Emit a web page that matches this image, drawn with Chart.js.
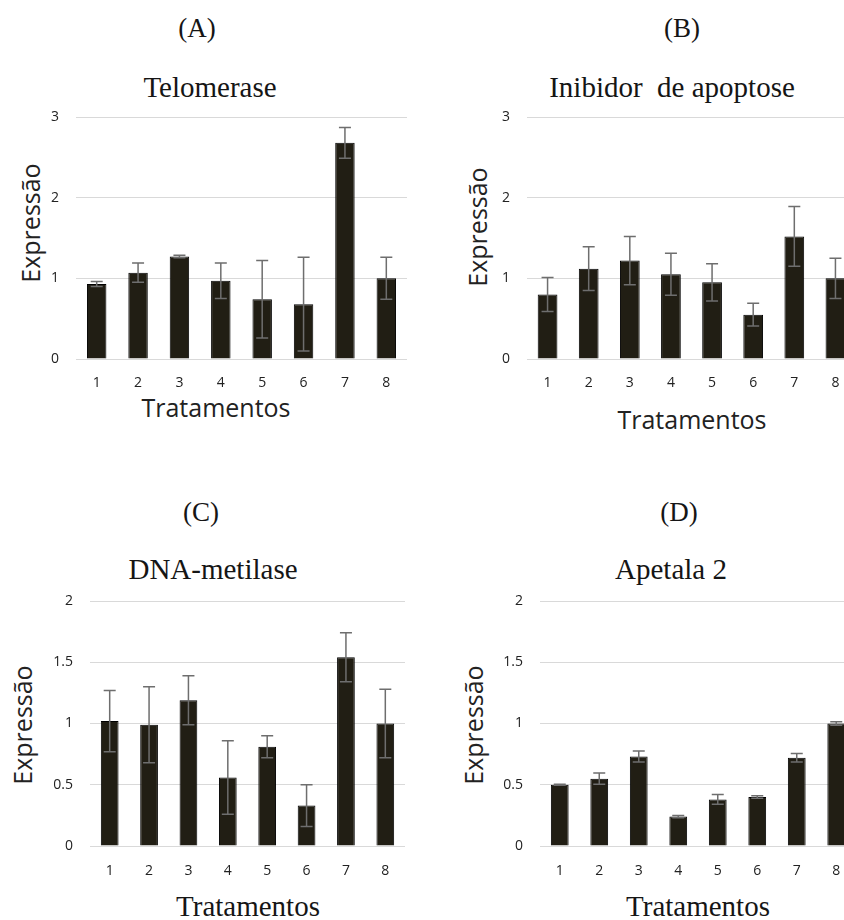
<!DOCTYPE html>
<html>
<head>
<meta charset="utf-8">
<title>Expressão por tratamento</title>
<script src="https://cdn.jsdelivr.net/npm/chart.js@4.4.1/dist/chart.umd.min.js"></script>
<style>
  html, body { margin: 0; padding: 0; background: #fff; }
  body { position: relative; width: 844px; height: 920px; overflow: hidden; }
  .panel { position: absolute; }
  .txt { position: absolute; white-space: pre; line-height: 1; color: #151515; transform: translate(-50%, -50%); }
  .serif { font-family: "Liberation Serif", "Times New Roman", serif; }
  .sans { font-family: "Open Sans", "DejaVu Sans", sans-serif; font-size: 25px; color: #222; }
  .rot { transform: translate(-50%, -50%) rotate(-90deg); }
</style>
</head>
<body>

<!-- panel labels and titles -->
<div class="txt serif" style="left:197px;top:28px;font-size:27px">(A)</div>
<div class="txt serif" style="left:682px;top:28px;font-size:27px">(B)</div>
<div class="txt serif" style="left:201px;top:512px;font-size:27px">(C)</div>
<div class="txt serif" style="left:679px;top:512px;font-size:27px">(D)</div>

<div class="txt serif" style="left:210px;top:87px;font-size:29px">Telomerase</div>
<div class="txt serif" style="left:672px;top:87px;font-size:29px">Inibidor  de apoptose</div>
<div class="txt serif" style="left:213px;top:569px;font-size:29px">DNA-metilase</div>
<div class="txt serif" style="left:671px;top:569px;font-size:29px">Apetala 2</div>

<!-- axis titles -->
<div class="txt sans rot" style="left:30px;top:223px">Expressão</div>
<div class="txt sans rot" style="left:477px;top:227px">Expressão</div>
<div class="txt sans rot" style="left:22px;top:725px">Expressão</div>
<div class="txt sans rot" style="left:473px;top:725px">Expressão</div>

<div class="txt sans" style="left:216px;top:407px">Tratamentos</div>
<div class="txt sans" style="left:692px;top:419px">Tratamentos</div>
<div class="txt serif" style="left:248px;top:906px;font-size:29px">Tratamentos</div>
<div class="txt serif" style="left:698px;top:906px;font-size:29px">Tratamentos</div>

<div class="panel" style="left:0px;top:0px"><canvas id="chartA" width="420" height="460"></canvas></div>
<div class="panel" style="left:420px;top:0px"><canvas id="chartB" width="440" height="460"></canvas></div>
<div class="panel" style="left:0px;top:460px"><canvas id="chartC" width="420" height="470"></canvas></div>
<div class="panel" style="left:420px;top:460px"><canvas id="chartD" width="440" height="470"></canvas></div>

<script>
// ---- data ----
const categories = ["1", "2", "3", "4", "5", "6", "7", "8"];

const telomeraseValues = [0.93, 1.07, 1.27, 0.97, 0.74, 0.68, 2.68, 1.00];
const telomeraseErrors = [0.03, 0.12, 0.015, 0.22, 0.48, 0.58, 0.19, 0.26];

const inibidorValues = [0.80, 1.12, 1.22, 1.05, 0.95, 0.55, 1.52, 1.00];
const inibidorErrors = [0.21, 0.27, 0.30, 0.26, 0.23, 0.14, 0.37, 0.25];

const metilaseValues = [1.02, 0.99, 1.19, 0.56, 0.81, 0.33, 1.54, 1.00];
const metilaseErrors = [0.25, 0.31, 0.20, 0.30, 0.09, 0.17, 0.20, 0.28];

const apetalaValues = [0.50, 0.55, 0.73, 0.24, 0.38, 0.40, 0.72, 1.00];
const apetalaErrors = [0.005, 0.045, 0.045, 0.01, 0.04, 0.01, 0.035, 0.015];

const ticksUpTo3 = ["0", "1", "2", "3"];
const ticksUpTo2 = ["0", "0.5", "1", "1.5", "2"];

// error bars drawn from the dataset's own errors, through the y scale
const errorBars = {
  id: "errorBars",
  afterDatasetsDraw(chart) {
    const { ctx } = chart;
    const y = chart.scales.y;
    const ds = chart.data.datasets[0];
    const meta = chart.getDatasetMeta(0);
    ctx.save();
    ctx.strokeStyle = "#6e6e6e";
    ctx.lineWidth = 1.5;
    meta.data.forEach((bar, i) => {
      const v = ds.data[i], e = ds.errors[i];
      const top = y.getPixelForValue(v + e);
      const bot = y.getPixelForValue(v - e);
      const cap = 6;
      ctx.beginPath();
      ctx.moveTo(bar.x, top); ctx.lineTo(bar.x, bot);
      ctx.moveTo(bar.x - cap, top); ctx.lineTo(bar.x + cap, top);
      ctx.moveTo(bar.x - cap, bot); ctx.lineTo(bar.x + cap, bot);
      ctx.stroke();
    });
    ctx.restore();
  }
};

function buildChart(id, values, errors, tickLabels, yMax, yStep, box) {
  const canvas = document.getElementById(id);
  const W = canvas.width, H = canvas.height;
  return new Chart(canvas, {
    type: "bar",
    data: {
      labels: categories,
      datasets: [{
        data: values,
        errors: errors,
        backgroundColor: "#211e14",
        borderColor: "#000000",
        borderWidth: 1,
        barPercentage: box.barPct,
        categoryPercentage: 1
      }]
    },
    options: {
      responsive: false,
      devicePixelRatio: 1,
      animation: false,
      layout: { padding: { top: box.t, right: W - box.r, bottom: 0, left: 0 } },
      plugins: { legend: { display: false }, tooltip: { enabled: false }, title: { display: false } },
      scales: {
        x: {
          grid: { display: false, drawTicks: false },
          border: { display: false },
          ticks: { color: "#222", font: { family: "Open Sans", size: 14 }, padding: box.xTickPad, maxRotation: 0 },
          afterFit: s => { s.height = H - box.b; }
        },
        y: {
          min: 0,
          max: yMax,
          grid: { color: "#d9d9d9", lineWidth: 1, drawTicks: false },
          border: { display: false },
          ticks: {
            stepSize: yStep,
            color: "#222",
            font: { family: "Open Sans", size: 14 },
            padding: 17,
            callback: (val, i) => tickLabels[i]
          },
          afterFit: s => { s.width = box.l; }
        }
      }
    },
    plugins: [errorBars]
  });
}

buildChart("chartA", telomeraseValues, telomeraseErrors, ticksUpTo3, 3, 1,
  { l: 76, r: 407, t: 117, b: 359, barPct: 0.47, xTickPad: 15.5 });
buildChart("chartB", inibidorValues, inibidorErrors, ticksUpTo3, 3, 1,
  { l: 107, r: 436, t: 117, b: 359, barPct: 0.48, xTickPad: 15.5 });
buildChart("chartC", metilaseValues, metilaseErrors, ticksUpTo2, 2, 0.5,
  { l: 90, r: 405, t: 141, b: 386, barPct: 0.45, xTickPad: 17 });
buildChart("chartD", apetalaValues, apetalaErrors, ticksUpTo2, 2, 0.5,
  { l: 120, r: 436, t: 141, b: 386, barPct: 0.45, xTickPad: 17 });
</script>
</body>
</html>
